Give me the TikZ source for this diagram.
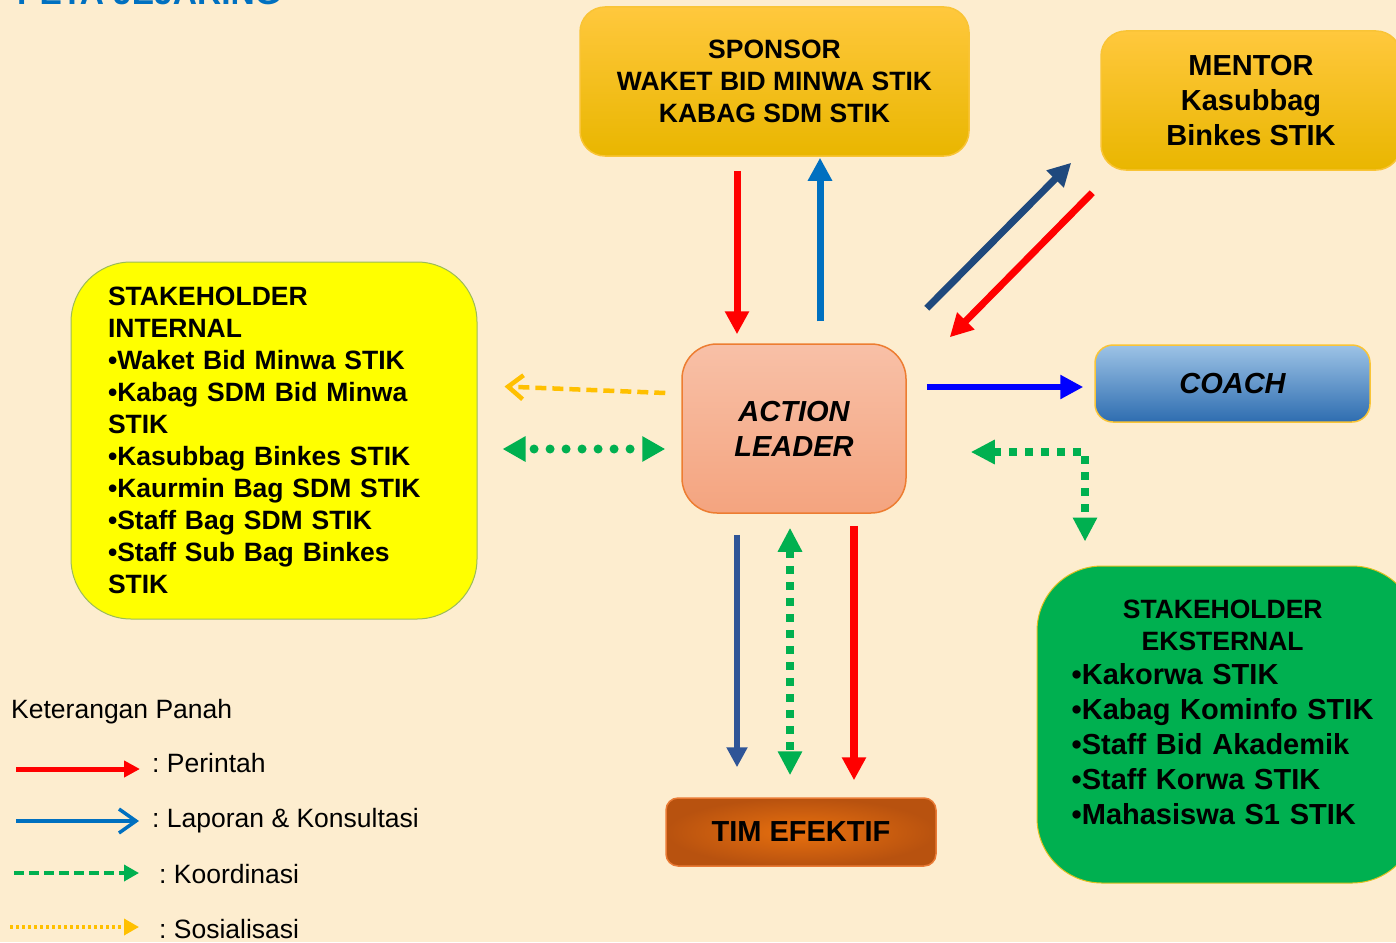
\documentclass[tikz,border=0pt]{standalone}
\usepackage{fontspec}
\setmainfont{Liberation Sans}
\frenchspacing
\usetikzlibrary{arrows.meta, calc}

\definecolor{latar}{HTML}{FDEDCF}
\definecolor{judulbiru}{HTML}{0070C0}
\definecolor{merah}{HTML}{FF0000}
\definecolor{biru}{HTML}{0070C0}
\definecolor{birutua}{HTML}{1F497D}
\definecolor{birusedang}{HTML}{2F5597}
\definecolor{birumurni}{HTML}{0000FF}
\definecolor{hijau}{HTML}{00B050}
\definecolor{oranye}{HTML}{FFC000}
\definecolor{emasatas}{HTML}{FFC83D}
\definecolor{emasbawah}{HTML}{E9B600}
\definecolor{emasgaris}{HTML}{F9C436}
\definecolor{coachatas}{HTML}{9DC3E6}
\definecolor{coachbawah}{HTML}{2E6DB0}
\definecolor{leaderatas}{HTML}{F8C0A7}
\definecolor{leaderbawah}{HTML}{F4A47F}
\definecolor{leadergaris}{HTML}{ED7D31}
\definecolor{timdalam}{HTML}{E8700E}
\definecolor{timluar}{HTML}{B8520F}
\definecolor{timgaris}{HTML}{E97A35}
\definecolor{kuning}{HTML}{FFFF00}
\definecolor{kuninggaris}{HTML}{9BBB59}
\definecolor{hijaugaris}{HTML}{E0C020}

\newcommand{\ukuran}[2]{\fontsize{#1}{#2}\selectfont}

\tikzset{
  kotak/.style={rounded corners=25pt, line width=1.5pt, inner sep=0pt, align=center, font=\ukuran{26.5}{32}\bfseries},
  kotakemas/.style={kotak, draw=emasgaris, top color=emasatas, bottom color=emasbawah},
  panahtebal/.style={line width=7pt, -{Triangle[width=23pt,length=23pt]}},
  titikbulat/.style={hijau, line width=9pt, line cap=round, dash pattern=on 0pt off 16pt, dash phase=6pt,
    {Triangle[width=24pt,length=23pt]}-{Triangle[width=24pt,length=23pt]}},
  titikkotak/.style={hijau, line width=7.5pt, dash pattern=on 7.5pt off 8.5pt,
    {Triangle[width=23pt,length=24pt]}-{Triangle[width=23pt,length=24pt]}},
  putusoranye/.style={oranye, line width=4.5pt, dash pattern=on 11pt off 6pt, -{Straight Barb[length=15pt,width=24pt]}},
  keterangan/.style={anchor=base west, inner sep=0pt, font=\ukuran{26.5}{32}}
}

\begin{document}
\begin{tikzpicture}[x=1pt, y=-1pt]

	\useasboundingbox (0,0) rectangle (1396,942);
	\clip (0,0) rectangle (1396,942);
	\fill[latar] (0,0) rectangle (1396,942);

	\node[anchor=base west, inner sep=0pt, text=judulbiru, font=\ukuran{33.5}{40}\bfseries] (judul) at (17,5) {PETA JEJARING};

	\node[kotakemas, minimum width=389pt, minimum height=149pt] (sponsor) at (774.5,81.5) {SPONSOR\\WAKET BID MINWA STIK\\KABAG SDM STIK};
	\node[kotakemas, minimum width=300pt, minimum height=139pt, font=\ukuran{29}{35}\bfseries] (mentor) at (1251,100.5) {MENTOR\\Kasubbag\\Binkes STIK};
	\node[kotak, rounded corners=18pt, draw=emasgaris, top color=coachatas, bottom color=coachbawah,
		minimum width=275pt, minimum height=77pt, font=\ukuran{29}{35}\bfseries\itshape] (coach) at (1232.5,383.5) {COACH};
	\node[kotak, rounded corners=35pt, draw=leadergaris, top color=leaderatas, bottom color=leaderbawah,
		minimum width=224pt, minimum height=169pt, font=\ukuran{29}{35}\bfseries\itshape] (leader) at (794,428.5) {ACTION\\LEADER};
	\node[kotak, rounded corners=12pt, draw=timgaris, shading=radial, inner color=timdalam, outer color=timluar,
		minimum width=270pt, minimum height=68pt, font=\ukuran{29}{35}\bfseries] (tim) at (801,832) {TIM EFEKTIF};

	\node[kotak, rounded corners=60pt, draw=kuninggaris, line width=1pt, fill=kuning, minimum width=406pt, minimum height=357pt,
		text width=332pt, align=left] (internal) at (274,440.5)
		{STAKEHOLDER\\INTERNAL\\•Waket Bid Minwa STIK\\•Kabag SDM Bid Minwa\\STIK\\•Kasubbag Binkes STIK\\•Kaurmin Bag SDM STIK\\•Staff Bag SDM STIK\\•Staff Sub Bag Binkes\\STIK};

	\node[kotak, rounded corners=65pt, draw=hijaugaris, line width=1pt, fill=hijau, minimum width=380pt, minimum height=317pt] (eksternal) at (1227,724.5) {};
	\node[anchor=north west, inner sep=0pt, text width=302pt, align=left, font=\ukuran{29}{35}\bfseries] (eksternalteks)
		at ($(eksternal.north west)+(35,34)$)
		{\makebox[302pt]{\ukuran{26.5}{35}STAKEHOLDER}\\[-3pt]\makebox[302pt]{\ukuran{26.5}{35}EKSTERNAL}\\[-1pt]•Kakorwa STIK\\•Kabag Kominfo STIK\\•Staff Bid Akademik\\•Staff Korwa STIK\\•Mahasiswa S1 STIK};

	\draw[merah, panahtebal] ($(sponsor.south)+(-37.5,14)$) -- ($(leader.north)+(-57,-9)$);
	\draw[biru, panahtebal] ($(leader.north)+(26,-22)$) -- ($(sponsor.south)+(45.5,1)$);
	\draw[birutua, panahtebal] ($(leader.north east)+(20,-35)$) -- ($(mentor.south west)+(-29,-8)$);
	\draw[merah, panahtebal] ($(mentor.south west)+(-8,22)$) -- ($(leader.north east)+(43,-6)$);
	\draw[birumurni, panahtebal, line width=5.5pt] ($(leader.east)+(20,-41.5)$) -- ($(coach.west)+(-11,3.5)$);
	\draw[putusoranye] ($(leader.west)+(-16,-35.5)$) -- ($(internal.east)+(27,-54)$);
	\draw[titikbulat] ($(internal.east)+(25,8.5)$) -- ($(leader.west)+(-16,20.5)$);
	\draw[titikkotak] ($(leader.east)+(64,23.5)$) -| ($(eksternal.north)+(-142,-24)$);
	\draw[birusedang, panahtebal, line width=6pt, -{Triangle[width=20pt,length=20pt]}] ($(leader.south)+(-57,21)$) -- ($(tim.north)+(-64,-30)$);
	\draw[titikkotak] ($(leader.south)+(-4,14)$) -- ($(tim.north)+(-11,-22)$);
	\draw[merah, panahtebal, line width=7.5pt] ($(leader.south)+(60,12)$) -- ($(tim.north)+(53,-17)$);

	\node[keterangan] (ketpanah) at (11,718) {Keterangan Panah};
	\node[keterangan] (ketperintah) at (152,772) {: Perintah};
	\node[keterangan] (ketlaporan) at (152,827) {: Laporan \& Konsultasi};
	\node[keterangan] (ketkoordinasi) at (159,883) {: Koordinasi};
	\node[keterangan] (ketsosialisasi) at (159,938) {: Sosialisasi};

	\coordinate (perintahawal) at (16,769);
	\coordinate (perintahakhir) at (140,769);
	\coordinate (laporanawal) at (16,821);
	\coordinate (laporanakhir) at (139,821);
	\coordinate (koordinasiawal) at (14,873);
	\coordinate (koordinasiakhir) at (139,873);
	\coordinate (sosialisasiawal) at (10,927);
	\coordinate (sosialisasiakhir) at (139,927);

	\draw[merah, line width=5pt, -{Triangle[width=16pt,length=16pt]}] (perintahawal) -- (perintahakhir);
	\draw[biru, line width=3.5pt, -{Straight Barb[length=17pt,width=24pt]}] (laporanawal) -- (laporanakhir);
	\draw[hijau, line width=3.5pt, dash pattern=on 10pt off 5pt, -{Triangle[width=16pt,length=15pt]}] (koordinasiawal) -- (koordinasiakhir);
	\draw[oranye, line width=3.5pt, dash pattern=on 3pt off 3pt, -{Triangle[width=16pt,length=15pt]}] (sosialisasiawal) -- (sosialisasiakhir);

\end{tikzpicture}
\end{document}
